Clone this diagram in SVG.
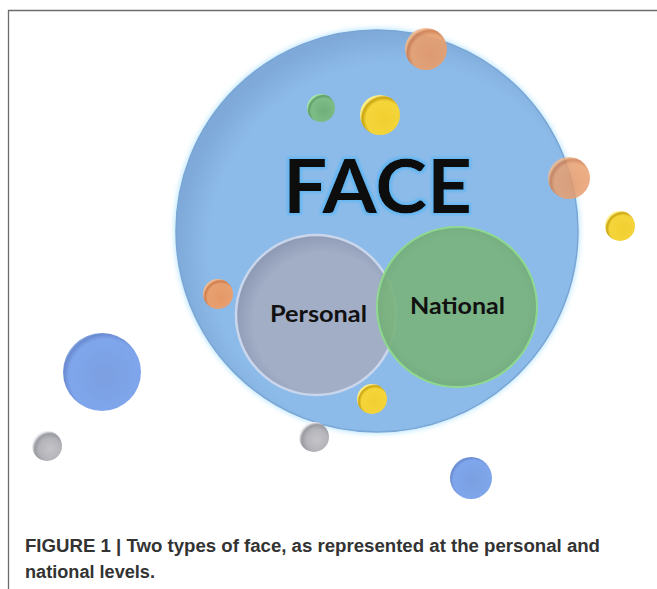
<svg xmlns="http://www.w3.org/2000/svg" width="657" height="589" viewBox="0 0 657 589">
<defs>
<style>
.cap{font-family:"Liberation Sans",Arial,sans-serif;font-weight:bold;font-size:17.5px;fill:#333}
.lbl{font-family:Lato,"Open Sans",sans-serif;font-weight:bold;fill:#111;text-anchor:middle}
</style>
<filter id="glow" x="-20%" y="-20%" width="140%" height="140%">
<feMorphology in="SourceAlpha" operator="dilate" radius="2.2" result="d"/>
<feGaussianBlur in="d" stdDeviation="1.6" result="b"/>
<feFlood flood-color="#62b6f2"/>
<feComposite operator="in" in2="b" result="g"/>
<feMerge><feMergeNode in="g"/><feMergeNode in="SourceGraphic"/></feMerge>
</filter>
<filter id="soft" x="-20%" y="-20%" width="140%" height="140%">
<feGaussianBlur stdDeviation="2.5"/>
</filter>
<filter id="sm" x="-20%" y="-20%" width="140%" height="140%">
<feGaussianBlur stdDeviation="0.6"/>
</filter>
<radialGradient id="gBig" cx="0.55" cy="0.55" r="0.55">
<stop offset="0.85" stop-color="#8dbbe9"/>
<stop offset="1" stop-color="#7ea9d9"/>
</radialGradient>
<radialGradient id="gPers" cx="0.55" cy="0.55" r="0.55">
<stop offset="0.8" stop-color="#a2aec6"/>
<stop offset="1" stop-color="#909cb6"/>
</radialGradient>
<radialGradient id="gNat" cx="0.5" cy="0.5" r="0.55">
<stop offset="0.8" stop-color="#79b37c"/>
<stop offset="1" stop-color="#6fa873"/>
</radialGradient>
<radialGradient id="bOr" cx="0.6" cy="0.6" r="0.6" fx="0.6" fy="0.65">
<stop offset="0" stop-color="#e59868"/>
<stop offset="0.75" stop-color="#e8a070"/>
<stop offset="0.9" stop-color="#cf7d50"/>
<stop offset="1" stop-color="#f2bb90"/>
</radialGradient>
<radialGradient id="bYe" cx="0.6" cy="0.6" r="0.6">
<stop offset="0" stop-color="#f2cf30"/>
<stop offset="0.75" stop-color="#f4d53a"/>
<stop offset="0.9" stop-color="#c9a410"/>
<stop offset="1" stop-color="#fff08a"/>
</radialGradient>
<radialGradient id="bGr" cx="0.6" cy="0.6" r="0.6">
<stop offset="0" stop-color="#6fae79"/>
<stop offset="0.75" stop-color="#7dbd86"/>
<stop offset="0.9" stop-color="#5f9c69"/>
<stop offset="1" stop-color="#a6e6a8"/>
</radialGradient>
<radialGradient id="bBl" cx="0.55" cy="0.55" r="0.6">
<stop offset="0" stop-color="#7b9fe0"/>
<stop offset="0.78" stop-color="#7fa6ec"/>
<stop offset="0.9" stop-color="#6a8ad0"/>
<stop offset="1" stop-color="#b6d6ff"/>
</radialGradient>
<radialGradient id="bGy" cx="0.6" cy="0.6" r="0.6">
<stop offset="0" stop-color="#c4c4c8"/>
<stop offset="0.6" stop-color="#b4b4ba"/>
<stop offset="0.85" stop-color="#9a9aa2"/>
<stop offset="1" stop-color="#f2f2f4"/>
</radialGradient>
</defs>
<rect width="657" height="589" fill="#fff"/>
<path d="M8.5,589 V10.5 H657" fill="none" stroke="#6b6b6b" stroke-width="1.3"/>

<g id="face">
<circle cx="377" cy="231" r="203" fill="#bfe8ff" filter="url(#soft)"/>
<circle cx="377" cy="231" r="201" fill="url(#gBig)" stroke="#7aa6d4" stroke-width="1.5"/>
<text class="lbl" x="377.5" y="213" font-size="75" textLength="189" lengthAdjust="spacingAndGlyphs" filter="url(#glow)">FACE</text>
</g>

<g id="personal">
<circle cx="316" cy="315" r="80" fill="url(#gPers)" stroke="#c9d6ec" stroke-width="2.5"/>
<text class="lbl" x="318.5" y="322" font-size="22" textLength="97" lengthAdjust="spacingAndGlyphs">Personal</text>
</g>

<g id="national">
<circle cx="457" cy="307" r="80" fill="url(#gNat)" fill-opacity="0.9" stroke="#8fd98f" stroke-width="2"/>
<text class="lbl" x="457.5" y="314" font-size="22" textLength="95" lengthAdjust="spacingAndGlyphs">National</text>
</g>

<g id="balls" filter="url(#sm)">
<circle cx="426" cy="49" r="21" fill="url(#bOr)" fill-opacity="0.92"/>
<circle cx="321" cy="108" r="14" fill="url(#bGr)"/>
<circle cx="380" cy="115" r="20" fill="url(#bYe)"/>
<circle cx="569" cy="178" r="21" fill="url(#bOr)" fill-opacity="0.85"/>
<circle cx="620" cy="226" r="15" fill="url(#bYe)"/>
<circle cx="218" cy="294" r="15" fill="url(#bOr)"/>
<circle cx="372" cy="399" r="15" fill="url(#bYe)"/>
<circle cx="102" cy="372" r="39" fill="url(#bBl)"/>
<circle cx="47" cy="446" r="15" fill="url(#bGy)"/>
<circle cx="314" cy="437" r="15" fill="url(#bGy)"/>
<circle cx="471" cy="478" r="21" fill="url(#bBl)"/>
</g>

<g id="caption">
<text class="cap" x="25" y="552" textLength="575" lengthAdjust="spacingAndGlyphs">FIGURE 1 | Two types of face, as represented at the personal and</text>
<text class="cap" x="25" y="578" textLength="130" lengthAdjust="spacingAndGlyphs">national levels.</text>
</g>
</svg>
